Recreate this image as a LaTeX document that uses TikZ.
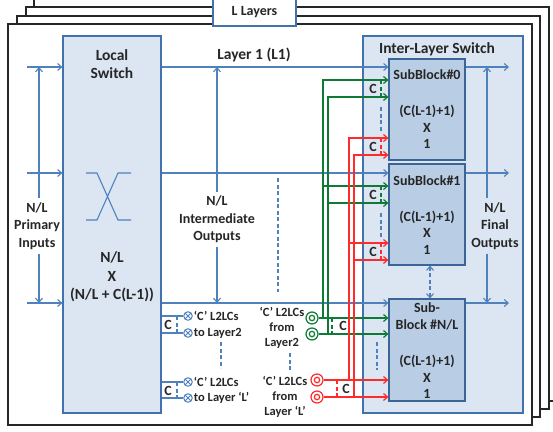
\documentclass[tikz,border=0pt]{standalone}
\usepackage{fontspec}
\setmainfont{Carlito}
\usetikzlibrary{arrows.meta}

\definecolor{blueline}{HTML}{4F81BD}
\definecolor{boxline}{HTML}{4272AC}
\definecolor{boxfill}{HTML}{DCE6F2}
\definecolor{subfill}{HTML}{B9CDE5}
\definecolor{subline}{HTML}{3B6497}
\definecolor{grn}{HTML}{0F7A35}
\definecolor{rd}{HTML}{FF2B2B}
\definecolor{txt}{HTML}{262626}

\tikzset{
  frame/.style={draw=black!85, fill=white, line width=1.2pt},
  blk/.style={draw=boxline, fill=boxfill, line width=1.2pt, inner sep=0pt},
  subblk/.style={draw=subline, fill=subfill, line width=1.2pt, inner sep=0pt, minimum width=76pt},
  bline/.style={draw=blueline, line width=1.1pt},
  gline/.style={draw=grn, line width=1.2pt},
  rline/.style={draw=rd, line width=1.2pt},
  dsh/.style={dash pattern=on 4pt off 2.5pt},
  arr/.style={-{Straight Barb[length=4pt,width=7pt]}},
  darr/.style={{Straight Barb[length=4pt,width=7pt]}-{Straight Barb[length=4pt,width=7pt]}},
  ttl/.style={text=txt, font=\fontsize{15.5}{18.5}\selectfont\bfseries, align=center, inner sep=0pt},
  lbl/.style={text=txt, font=\fontsize{14}{17.5}\selectfont\bfseries, align=center, inner sep=0pt},
  sml/.style={text=txt, font=\fontsize{12.5}{15}\selectfont\bfseries, align=center, inner sep=0pt},
  ring/.style={circle, draw=#1, fill=white, line width=1.2pt, minimum size=12pt, inner sep=0pt,
    path picture={\draw[#1, line width=1.2pt] (path picture bounding box.center) circle (2.7pt);}},
  xring/.style={circle, draw=blueline, fill=white, line width=1pt, minimum size=8.5pt, inner sep=0pt,
    path picture={\draw[blueline, line width=1pt] (path picture bounding box.north west) -- (path picture bounding box.south east)
      (path picture bounding box.north east) -- (path picture bounding box.south west);}},
}

\begin{document}
\begin{tikzpicture}[x=1pt,y=-1pt]
\useasboundingbox (0,0) rectangle (553,431);

% stacked layers
\draw[frame] (34,-1) rectangle (557,401);
\draw[frame] (26,7) rectangle (549,409);
\draw[frame] (17,16) rectangle (540,417);
\draw[frame] (8,24) rectangle (532,425);
\node[draw=boxline, fill=white, line width=1.2pt, minimum width=83pt, minimum height=28pt, lbl] (ll) at (254.5,12) {L Layers};

% switches
\node[blk, minimum width=98pt, minimum height=377pt] (ls) at (112,224.5) {};
\node[blk, minimum width=160pt, minimum height=377pt] (ils) at (443,224.5) {};
\node[subblk, minimum height=101pt] (sb0) at (427,109.5) {};
\node[subblk, minimum height=101pt] (sb1) at (427,214.5) {};
\node[subblk, minimum height=102pt] (sbn) at (427,350) {};

\node[ttl] (lst) at (112,64) {Local\\Switch};
\node[ttl] (lsx) at (112,277) {N/L\\X\\(N/L + C(L-1))};
\node[ttl] (ilst) at (437,49) {Inter-Layer Switch};
\node[ttl] (l1t) at (254,55) {Layer 1 (L1)};
\node[lbl, inner ysep=4pt] (pin) at (37,226) {N/L\\Primary\\Inputs};
\node[lbl, inner ysep=4pt] (iout) at (217,219.5) {N/L\\Intermediate\\Outputs};
\node[lbl, inner ysep=4pt] (fout) at (495,226) {N/L\\Final\\Outputs};

\node[lbl] (sb0a) at (427,75) {SubBlock\#0};
\node[lbl, font=\fontsize{14}{16.5}\selectfont\bfseries] (sb0b) at (427,127) {(C(L-1)+1)\\X\\1};
\node[lbl] (sb1a) at (427,181) {SubBlock\#1};
\node[lbl, font=\fontsize{14}{16.5}\selectfont\bfseries] (sb1b) at (427,232.5) {(C(L-1)+1)\\X\\1};
\node[lbl] (sbna) at (427,316.5) {Sub-\\Block \#N/L};
\node[lbl, font=\fontsize{14}{16.5}\selectfont\bfseries] (sbnb) at (427,377) {(C(L-1)+1)\\X\\1};

% rows and columns
\coordinate (r1) at (0,67);
\coordinate (r2) at (0,173);
\coordinate (r3) at (0,303);
\coordinate (cin) at (27,0);
\coordinate (cout) at (509,0);
\coordinate (cpi) at (39,0);
\coordinate (cfo) at (487,0);

\draw[bline,arr] (cin |- r1) -- (ls.west |- r1);
\draw[bline,arr] (cin |- r2) -- (ls.west |- r2);
\draw[bline,arr] (cin |- r3) -- (ls.west |- r3);
\draw[bline,arr] (cpi |- pin.north) -- (cpi |- r1);
\draw[bline,arr] (cpi |- pin.south) -- (cpi |- r3);

\draw[bline,arr] (ls.east |- r1) -- (sb0.west |- r1);
\draw[bline,arr] (ls.east |- r2) -- (sb1.west |- r2);
\draw[bline,arr] (ls.east |- r3) -- (sbn.west |- r3);
\draw[bline,arr] (iout.north) -- (iout.north |- r1);
\draw[bline,arr] (iout.south) -- (iout.south |- r3);

\draw[bline,arr] (sb0.east |- r1) -- (cout |- r1);
\draw[bline,arr] (sb1.east |- r2) -- (cout |- r2);
\draw[bline,arr] (sbn.east |- r3) -- (cout |- r3);
\draw[bline,arr] (cfo |- fout.north) -- (cfo |- r1);
\draw[bline,arr] (cfo |- fout.south) -- (cfo |- r3);

\draw[bline,dsh,darr] ([xshift=3pt]sb1.south) -- ([xshift=3pt]sbn.north);

% crossbar
\draw[bline] (86,173) -- (97,173) -- (118,220) -- (131,220)
  (131,173) -- (118,173) -- (97,220) -- (86,220);
\draw[bline,dsh] (278,178) -- (278,292);

% L2LCs to other layers
\node[xring] (xa) at (188,316) {};
\node[xring] (xb) at (188,333) {};
\node[xring] (xc) at (188,382) {};
\node[xring] (xd) at (188,398) {};
\coordinate (cl) at (177,0);
\draw[bline] (ls.east |- xa) -- (xa);
\draw[bline] (ls.east |- xb) -- (xb);
\draw[bline] (ls.east |- xc) -- (xc);
\draw[bline] (ls.east |- xd) -- (xd);
\draw[bline,dsh] (cl |- xa) -- (cl |- xb);
\draw[bline,dsh] (cl |- xc) -- (cl |- xd);
\node[lbl] (xcab) at (168,325) {C};
\node[lbl] (xccd) at (168,391) {C};
\node[sml, anchor=west] (xat) at ([xshift=1pt]xa.east) {‘C’ L2LCs};
\node[sml, anchor=west] (xbt) at ([xshift=1pt]xb.east) {to Layer2};
\node[sml, anchor=west] (xct) at ([xshift=1pt]xc.east) {‘C’ L2LCs};
\node[sml, anchor=west] (xdt) at ([xshift=1pt]xd.east) {to Layer ‘L’};
\draw[bline,dsh] (221,342) -- (221,368);

% L2LCs from other layers
\node[sml] (fl2) at (282,328) {‘C’ L2LCs\\from\\Layer2};
\node[sml] (flL) at (285,396.5) {‘C’ L2LCs\\from\\Layer ‘L’};
\draw[bline,dsh] (290,353) -- (290,372);
\node[ring=grn] (ga) at (312,318) {};
\node[ring=grn] (gb) at (312,334) {};
\node[ring=rd] (ra) at (317,380) {};
\node[ring=rd] (rb) at (317,397) {};

\coordinate (gv1) at (323,0);
\coordinate (gv2) at (328,0);
\coordinate (rv1) at (349,0);
\coordinate (rv2) at (354,0);
\coordinate (g01) at (0,80);
\coordinate (g02) at (0,97);
\coordinate (g11) at (0,186);
\coordinate (g12) at (0,203);
\coordinate (e01) at (0,138);
\coordinate (e02) at (0,155);
\coordinate (e11) at (0,243);
\coordinate (e12) at (0,260);
\coordinate (cc) at (381,0);

\draw[gline,arr] (ga.east) -- (sbn.west |- ga);
\draw[gline,arr] (gv1 |- ga) -- (gv1 |- g01) -- (sb0.west |- g01);
\draw[gline,arr] (gv1 |- g11) -- (sb1.west |- g11);
\draw[gline,arr] (gb.east) -- (sbn.west |- gb);
\draw[gline,arr] (gv2 |- gb) -- (gv2 |- g02) -- (sb0.west |- g02);
\draw[gline,arr] (gv2 |- g12) -- (sb1.west |- g12);

\draw[rline,arr] (ra.east) -- (sbn.west |- ra);
\draw[rline,arr] (rv1 |- ra) -- (rv1 |- e01) -- (sb0.west |- e01);
\draw[rline,arr] (rv1 |- e11) -- (sb1.west |- e11);
\draw[rline,arr] (rb.east) -- (sbn.west |- rb);
\draw[rline,arr] (rv2 |- rb) -- (rv2 |- e02) -- (sb0.west |- e02);
\draw[rline,arr] (rv2 |- e12) -- (sb1.west |- e12);

\draw[gline,dsh] (332,318) -- (332,334);
\node[lbl] (gcl) at (343,326) {C};
\draw[rline,dsh] (337,380) -- (337,397);
\node[lbl] (rcl) at (346,389) {C};

% C groups at the sub-blocks
\draw[gline,dsh] (cc |- g01) -- (cc |- g02);
\node[lbl] (c0g) at (373,88.5) {C};
\draw[bline,dsh] (381,107) -- (381,132);
\draw[rline,dsh] (cc |- e01) -- (cc |- e02);
\node[lbl] (c0r) at (373,146.5) {C};
\draw[gline,dsh] (cc |- g11) -- (cc |- g12);
\node[lbl] (c1g) at (373,194.5) {C};
\draw[bline,dsh] (381,213) -- (381,238);
\draw[rline,dsh] (cc |- e11) -- (cc |- e12);
\node[lbl] (c1r) at (373,251.5) {C};
\draw[bline,dsh] (377,342) -- (377,370);
\end{tikzpicture}
\end{document}
